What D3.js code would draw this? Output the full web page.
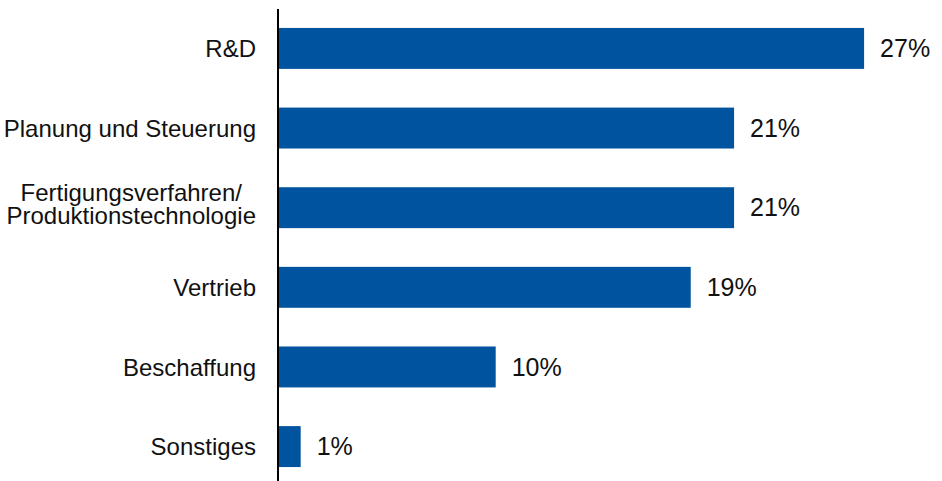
<!DOCTYPE html>
<html>
<head>
<meta charset="utf-8">
<script src="https://cdn.jsdelivr.net/npm/d3@7"></script>
<style>
  html, body { margin: 0; padding: 0; background: #fff; }
  svg { display: block; }
  text { font-family: "Liberation Sans", Arial, sans-serif; fill: #111; }
</style>
</head>
<body>
<svg id="chart" width="942" height="481"></svg>
<script>
// Bereiche (Kategorien, ggf. mehrzeilig) und Anteile in Prozent
const categories = [
  ["R&D"],
  ["Planung und Steuerung"],
  ["Fertigungsverfahren/", "Produktionstechnologie"],
  ["Vertrieb"],
  ["Beschaffung"],
  ["Sonstiges"]
];
const values = [27, 21, 21, 19, 10, 1];
const valueLabels = ["27%", "21%", "21%", "19%", "10%", "1%"];

const svg = d3.select("#chart");
const axisX = 278;
const barColor = "#00539f";

const keys = categories.map(c => c.join(" "));

const y = d3.scaleBand()
  .domain(keys)
  .range([8.6, 486.4])
  .paddingInner(0.486)
  .paddingOuter(0.243);

const x = d3.scaleLinear()
  .domain([0, 30])
  .range([axisX + 1, axisX + 1 + 30 * 21.67]);

const rows = keys.map((k, i) => ({ key: k, lines: categories[i], value: values[i], label: valueLabels[i] }));

// Balken
svg.append("g")
  .selectAll("rect")
  .data(rows)
  .join("rect")
  .attr("x", x(0))
  .attr("y", d => y(d.key))
  .attr("width", d => x(d.value) - x(0))
  .attr("height", y.bandwidth())
  .attr("fill", barColor);

// Werte rechts neben den Balken
svg.append("g")
  .selectAll("text")
  .data(rows)
  .join("text")
  .attr("x", d => x(d.value) + 16)
  .attr("y", d => y(d.key) + y.bandwidth() / 2 + 8.8)
  .attr("font-size", 25)
  .text(d => d.label);

// Kategorienbeschriftungen links der Achse
const catG = svg.append("g");
rows.forEach(d => {
  const cy = y(d.key) + y.bandwidth() / 2;
  if (d.lines.length === 1) {
    catG.append("text")
      .attr("x", axisX - 22)
      .attr("y", cy + 8.6)
      .attr("text-anchor", "end")
      .attr("font-size", 24)
      .text(d.lines[0]);
  } else {
    // mehrzeilige Beschriftung: Zeilen zentriert untereinander, Block rechtsbündig
    const t = catG.append("text")
      .attr("font-size", 24)
      .attr("text-anchor", "middle");
    d.lines.forEach((line, j) => {
      t.append("tspan")
        .attr("x", 0)
        .attr("y", cy - 6.8 + j * 23.4)
        .text(line);
    });
    const w = t.node().getBBox().width;
    t.attr("transform", `translate(${axisX - 22 - w / 2},0)`);
  }
});

// Senkrechte Achsenlinie
svg.append("line")
  .attr("x1", axisX).attr("x2", axisX)
  .attr("y1", 9).attr("y2", 481)
  .attr("stroke", "#000")
  .attr("stroke-width", 2);
</script>
</body>
</html>
